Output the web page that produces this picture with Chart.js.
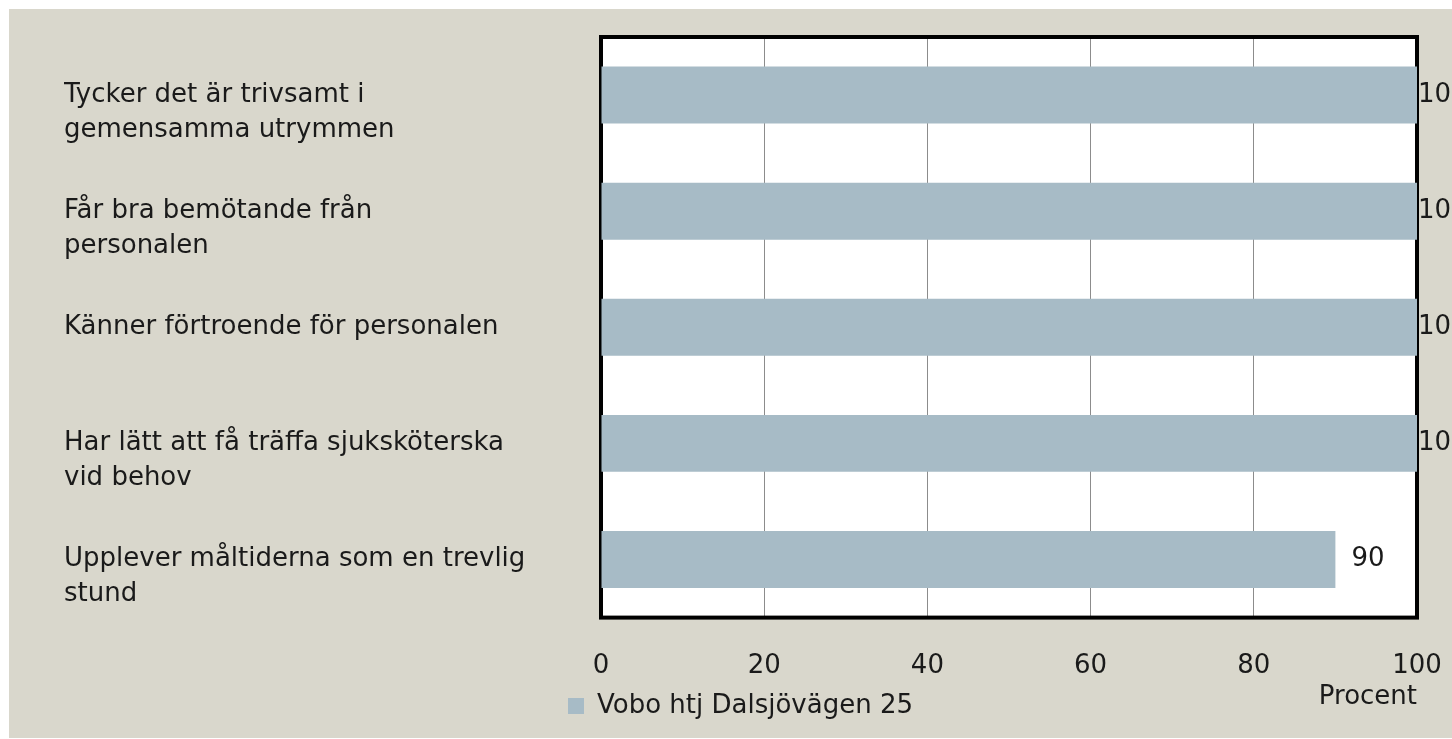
<!DOCTYPE html>
<html>
<head>
<meta charset="utf-8">
<script src="https://cdn.jsdelivr.net/npm/chart.js@4.4.0/dist/chart.umd.min.js"></script>
<style>
  html, body { margin: 0; padding: 0; background: #fff; overflow: hidden; }
  #wrap { position: absolute; left: 9px; top: 9px; width: 1443px; height: 729px; background: #d9d7cc; }
</style>
</head>
<body>
<div id="wrap"><canvas id="chart"></canvas></div>
<script>
// categories (first line sits on the bar, so two-line labels get a blank line in front)
const categories = [
  ['', 'Tycker det är trivsamt i', 'gemensamma utrymmen'],
  ['', 'Får bra bemötande från', 'personalen'],
  'Känner förtroende för personalen',
  ['', 'Har lätt att få träffa sjuksköterska', 'vid behov'],
  ['', 'Upplever måltiderna som en trevlig', 'stund']
];
const values = [100, 100, 100, 100, 90];
const seriesName = 'Vobo htj Dalsjövägen 25';
const axisTitle = 'Procent';
const xMin = 0, xMax = 100, xStep = 20;

const FONT = 'DejaVu Sans';
const SIZE = 26;
const TEXT = '#1a1a1a';
const BAR = '#a7bbc6';

// white plot area + thick black frame
const frame = {
  id: 'frame',
  beforeDraw(chart) {
    const { ctx, chartArea: a } = chart;
    ctx.save();
    ctx.fillStyle = '#fff';
    ctx.fillRect(a.left, a.top, a.right - a.left, a.bottom - a.top);
    ctx.restore();
  },
  beforeDatasetsDraw(chart) {
    const { ctx, chartArea: a } = chart;
    ctx.save();
    ctx.strokeStyle = '#000';
    ctx.lineWidth = 4;
    ctx.strokeRect(a.left, a.top, a.right - a.left, a.bottom - a.top);
    ctx.restore();
  }
};

// value labels at bar ends
const barLabels = {
  id: 'barLabels',
  afterDatasetsDraw(chart) {
    const { ctx } = chart;
    const meta = chart.getDatasetMeta(0);
    ctx.save();
    ctx.font = SIZE + 'px "' + FONT + '"';
    ctx.fillStyle = TEXT;
    ctx.textBaseline = 'middle';
    ctx.textAlign = 'left';
    meta.data.forEach((bar, i) => {
      const v = values[i];
      const off = v >= xMax ? 1 : 16;
      ctx.fillText(String(v), bar.x + off, bar.y);
    });
    ctx.restore();
  }
};

new Chart(document.getElementById('chart'), {
  type: 'bar',
  data: {
    labels: categories,
    datasets: [{
      label: seriesName,
      data: values,
      backgroundColor: BAR,
      borderWidth: 0,
      barPercentage: 0.49,
      categoryPercentage: 1
    }]
  },
  options: {
    indexAxis: 'y',
    responsive: true,
    maintainAspectRatio: false,
    animation: false,
    layout: { padding: { left: 55, top: 28, right: 35, bottom: 9 } },
    scales: {
      x: {
        min: xMin,
        max: xMax,
        border: { display: false },
        grid: { color: '#8c8c8c', lineWidth: 1, drawTicks: false },
        afterFit(scale) { scale.paddingLeft = 0; scale.paddingRight = 0; },
        ticks: {
          stepSize: xStep,
          padding: 33,
          color: TEXT,
          font: { family: FONT, size: SIZE }
        },
        title: {
          display: true,
          text: axisTitle,
          align: 'end',
          color: TEXT,
          font: { family: FONT, size: SIZE },
          padding: { top: -33, bottom: -30 }
        }
      },
      y: {
        border: { display: false },
        grid: { display: false, drawTicks: false },
        afterFit(scale) {
          scale.width = 537;
          scale.paddingTop = 0;
          scale.paddingBottom = 0;
        },
        ticks: {
          autoSkip: false,
          crossAlign: 'far',
          color: TEXT,
          font: { family: FONT, size: SIZE, lineHeight: 1.35 }
        }
      }
    },
    plugins: {
      legend: {
        position: 'bottom',
        labels: {
          boxWidth: 16,
          boxHeight: 16,
          color: TEXT,
          font: { family: FONT, size: SIZE }
        }
      },
      tooltip: { enabled: false }
    }
  },
  plugins: [frame, barLabels]
});
</script>
</body>
</html>
